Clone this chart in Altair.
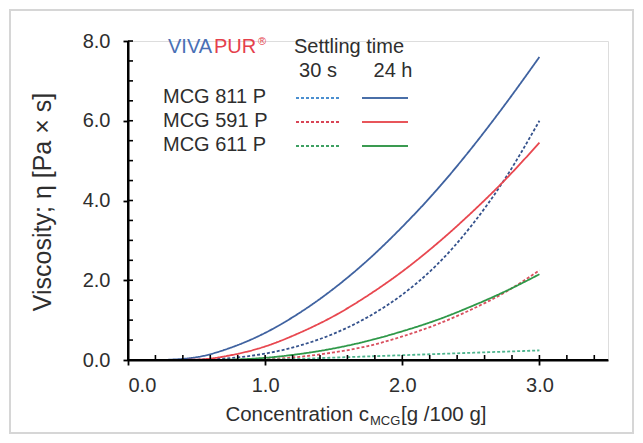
import altair as alt
import pandas as pd

FONT = "Liberation Sans"
TEXT = "#2e2e2e"
AXIS = "#000000"

# ---- data ----
conc = [0.25, 0.5, 0.75, 1.0, 1.25, 1.5, 1.75, 2.0, 2.25, 2.5, 2.75, 3.0]
mcg811_24h = [0.0, 0.07, 0.31, 0.68, 1.18, 1.79, 2.51, 3.34, 4.26, 5.29, 6.41, 7.60]
mcg811_30s = [0.0, 0.01, 0.05, 0.16, 0.36, 0.66, 1.08, 1.64, 2.38, 3.35, 4.55, 6.00]
mcg591_24h = [0.0, 0.01, 0.12, 0.34, 0.68, 1.10, 1.62, 2.22, 2.91, 3.68, 4.52, 5.45]
mcg591_30s = [0.0, 0.0, 0.0, 0.02, 0.08, 0.19, 0.35, 0.59, 0.89, 1.26, 1.70, 2.25]
mcg611_24h = [0.0, 0.0, 0.01, 0.055, 0.15, 0.29, 0.48, 0.72, 1.00, 1.34, 1.72, 2.15]
mcg611_30s = [0.0, 0.0, 0.0, 0.01, 0.03, 0.06, 0.09, 0.12, 0.15, 0.18, 0.21, 0.24]

products = ["MCG 811 P", "MCG 591 P", "MCG 611 P"]
times = ["30 s", "24 h"]
x_range = [0.0, 3.5]
y_range = [0.0, 8.0]
x_major = [0.0, 1.0, 2.0, 3.0]
x_minor = [0.2, 0.4, 0.6, 0.8, 1.2, 1.4, 1.6, 1.8, 2.2, 2.4, 2.6, 2.8, 3.2, 3.4]
y_major = [0.0, 2.0, 4.0, 6.0, 8.0]
y_minor = [0.5, 1.0, 1.5, 2.5, 3.0, 3.5, 4.5, 5.0, 5.5, 6.5, 7.0, 7.5]

series = {
    ("MCG 811 P", "24 h"): mcg811_24h,
    ("MCG 811 P", "30 s"): mcg811_30s,
    ("MCG 591 P", "24 h"): mcg591_24h,
    ("MCG 591 P", "30 s"): mcg591_30s,
    ("MCG 611 P", "24 h"): mcg611_24h,
    ("MCG 611 P", "30 s"): mcg611_30s,
}
colors = {
    ("MCG 811 P", "24 h"): "#3f62a0",
    ("MCG 811 P", "30 s"): "#35528c",
    ("MCG 591 P", "24 h"): "#e8474f",
    ("MCG 591 P", "30 s"): "#d9505f",
    ("MCG 611 P", "24 h"): "#2e9848",
    ("MCG 611 P", "30 s"): "#4fb58f",
}
legend_colors = {
    ("MCG 811 P", "30 s"): "#4a8fd0",
    ("MCG 811 P", "24 h"): "#4a6fa8",
    ("MCG 591 P", "30 s"): "#d94556",
    ("MCG 591 P", "24 h"): "#e8555a",
    ("MCG 611 P", "30 s"): "#3ea062",
    ("MCG 611 P", "24 h"): "#3a9a50",
}

rows = []
for (p, t), vals in series.items():
    for c, v in zip(conc, vals):
        rows.append({"c": c, "v": v, "key": p + " | " + t, "time": t})
df = pd.DataFrame(rows)
keys = [p + " | " + t for (p, t) in series.keys()]

xs = alt.Scale(domain=x_range, nice=False, zero=False)
ys = alt.Scale(domain=y_range, nice=False)
xaxis = alt.Axis(
    values=x_major, format=".1f", title=None, grid=False, tickSize=5,
    tickColor=AXIS, domainColor=AXIS, domainWidth=2, tickWidth=1.8,
    labelFontSize=20, labelFont=FONT, labelColor=TEXT, labelPadding=10,
    labelBaseline="top")
yaxis = alt.Axis(
    values=y_major, format=".1f", title=None, grid=False, tickSize=5,
    tickColor=AXIS, domainColor=AXIS, domainWidth=2, tickWidth=1.8,
    labelFontSize=20, labelFont=FONT, labelColor=TEXT, labelPadding=13)

lines = alt.Chart(df).mark_line(interpolate="monotone", strokeWidth=1.8).encode(
    x=alt.X("c:Q", scale=xs, axis=xaxis),
    y=alt.Y("v:Q", scale=ys, axis=yaxis),
    color=alt.Color("key:N", scale=alt.Scale(domain=keys, range=[colors[k] for k in series.keys()]), legend=None),
    strokeDash=alt.StrokeDash("time:N", scale=alt.Scale(domain=times, range=[[3, 2], [1, 0]]), legend=None),
    detail="key:N",
)

# axis lines drawn on top
xline = alt.Chart(pd.DataFrame({"c": [x_range[0]], "c2": [x_range[1]], "v": [y_range[0]]})).mark_rule(
    color=AXIS, strokeWidth=2).encode(x=alt.X("c:Q", scale=xs, axis=xaxis), x2="c2:Q",
                                       y=alt.Y("v:Q", scale=ys, axis=yaxis))
yline = alt.Chart(pd.DataFrame({"c": [x_range[0]], "v": [y_range[0]], "v2": [y_range[1]]})).mark_rule(
    color=AXIS, strokeWidth=2).encode(x=alt.X("c:Q", scale=xs, axis=xaxis),
                                       y=alt.Y("v:Q", scale=ys, axis=yaxis), y2="v2:Q")

# inward ticks
xt = pd.DataFrame({"c": x_major + x_minor})
yt = pd.DataFrame({"v": y_major + y_minor})
xticks = alt.Chart(xt).mark_rule(color=AXIS, strokeWidth=1.6).encode(
    x=alt.X("c:Q", scale=xs, axis=xaxis), y=alt.value(319), y2=alt.value(314))
yticks = alt.Chart(yt).mark_rule(color=AXIS, strokeWidth=1.6).encode(
    y=alt.Y("v:Q", scale=ys, axis=yaxis), x=alt.value(0), x2=alt.value(5))


def label(txt, x, y, size=20, color=TEXT, align="left", angle=0, baseline="middle"):
    kw = dict(align=align, baseline=baseline, fontSize=size, font=FONT, color=color)
    if angle:
        kw["angle"] = angle
    return alt.Chart(pd.DataFrame({"t": [txt]})).mark_text(**kw).encode(
        text="t:N", x=alt.value(x), y=alt.value(y))


texts = [
    label("Viscosity; \u03b7 [Pa \u00d7 s]", -85, 161, size=25, angle=270, align="center"),
    label("Concentration c", 241, 374, size=20.5, align="right"),
    label("MCG", 242, 380, size=13),
    label("[g /100 g]", 273, 374, size=20.5),
    label("VIVA", 40, 6, color="#4a6fb5"),
    label("PUR", 86, 6, color="#e5404c"),
    label("\u00ae", 130, 1, size=11, color="#e5404c"),
    label("Settling time", 166, 6),
    label(times[0], 190, 30, align="center"),
    label(times[1], 265, 30, align="center"),
]
row_y = [56, 80, 104]
leg = []
for i, p in enumerate(products):
    texts.append(label(p, 35, row_y[i]))
    leg.append(alt.Chart(pd.DataFrame({"k": [p]})).mark_rule(
        strokeWidth=1.8, strokeDash=[3, 2], color=legend_colors[(p, "30 s")]).encode(
        x=alt.value(168), x2=alt.value(211), y=alt.value(row_y[i] + 1)))
    leg.append(alt.Chart(pd.DataFrame({"k": [p]})).mark_rule(
        strokeWidth=1.8, color=legend_colors[(p, "24 h")]).encode(
        x=alt.value(234), x2=alt.value(280), y=alt.value(row_y[i] + 1)))

frame = alt.Chart(pd.DataFrame({"k": [0]})).mark_rect(
    fill="transparent", stroke="#d6d6d6", strokeWidth=2).encode(
    x=alt.value(-118), x2=alt.value(505), y=alt.value(-31), y2=alt.value(392))

chart = alt.layer(lines, xline, yline, xticks, yticks, frame, *leg, *texts).properties(
    width=480, height=319,
    padding={"left": 120, "top": 33, "right": 27, "bottom": 75},
    autosize=alt.AutoSizeParams(type="none"),
).configure_view(strokeWidth=0).configure(background="white")

chart.save("out.html", embed_options={"renderer": "svg", "actions": False})
